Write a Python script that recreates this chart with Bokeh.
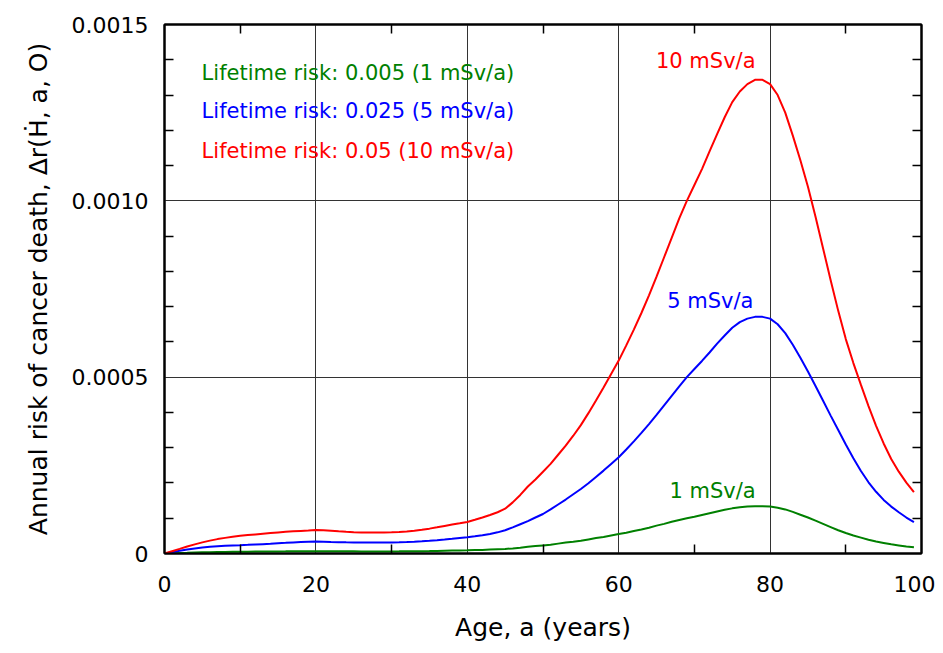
from bokeh.plotting import figure
from bokeh.models import LinearAxis, FixedTicker, Label, Range1d
from bokeh.embed import file_html
from bokeh.resources import INLINE

FONT = "DejaVu Sans"

age = list(range(0, 100))

risk_10 = [0, 0.0000065, 0.000013, 0.0000198, 0.0000258, 0.0000315, 0.0000365, 0.0000408, 0.0000443, 0.0000473,
           0.00005, 0.0000522, 0.0000542, 0.0000562, 0.000058, 0.0000598, 0.0000614, 0.0000628, 0.000064, 0.0000652,
           0.0000665, 0.0000658, 0.0000643, 0.0000628, 0.0000615, 0.0000605, 0.0000598, 0.0000595, 0.0000595, 0.0000598,
           0.0000603, 0.000061, 0.0000625, 0.0000645, 0.0000672, 0.0000705, 0.0000742, 0.0000782, 0.0000822, 0.0000858,
           0.0000895, 0.0000955, 0.000102, 0.000109, 0.000117, 0.000127, 0.000145, 0.000166, 0.00019, 0.00021,
           0.000232, 0.000254, 0.00028, 0.000306, 0.000334, 0.000364, 0.000398, 0.000434, 0.000471, 0.000509,
           0.000547, 0.00059, 0.000635, 0.000682, 0.000732, 0.000785, 0.00084, 0.000895, 0.00095, 0.001,
           0.001045, 0.00109, 0.00114, 0.001189, 0.001237, 0.00128, 0.00131, 0.001331, 0.001343, 0.001343,
           0.001331, 0.0013, 0.00125, 0.001185, 0.001115, 0.00104, 0.000955, 0.000865, 0.000775, 0.000688,
           0.000608, 0.00054, 0.000478, 0.000418, 0.000362, 0.000312, 0.000268, 0.000232, 0.000201, 0.000174]

risk_5 = [0, 0.0000035, 0.0000075, 0.0000113, 0.0000145, 0.0000172, 0.0000192, 0.0000208, 0.000022, 0.0000228,
          0.0000236, 0.0000245, 0.0000255, 0.0000265, 0.0000275, 0.0000293, 0.0000303, 0.0000315, 0.0000325, 0.0000333,
          0.000034, 0.0000335, 0.0000328, 0.0000322, 0.0000317, 0.0000314, 0.0000312, 0.0000311, 0.0000311, 0.0000312,
          0.0000315, 0.0000318, 0.0000325, 0.0000335, 0.0000348, 0.0000362, 0.0000378, 0.0000397, 0.0000418, 0.000044,
          0.0000462, 0.000049, 0.000052, 0.0000555, 0.00006, 0.000066, 0.000074, 0.000083, 0.000092, 0.000102,
          0.000112, 0.000125, 0.000139, 0.000153, 0.000168, 0.000183, 0.000199, 0.000217, 0.000235, 0.000254,
          0.000273, 0.000295, 0.000318, 0.000342, 0.000367, 0.000393, 0.00042, 0.000447, 0.000474, 0.0005,
          0.000523, 0.000546, 0.00057, 0.000595, 0.000618, 0.00064, 0.000656, 0.000666, 0.000671, 0.000671,
          0.000666, 0.00065, 0.000625, 0.000592, 0.000555, 0.000516, 0.000475, 0.000433, 0.000391, 0.00035,
          0.000309, 0.00027, 0.000234, 0.000202, 0.000175, 0.000152, 0.000133, 0.000117, 0.000102, 0.0000887]

risk_1 = [0, 0.0000007, 0.0000014, 0.000002, 0.0000027, 0.0000032, 0.0000037, 0.0000041, 0.0000044, 0.0000047,
          0.000005, 0.0000052, 0.0000054, 0.0000056, 0.0000058, 0.000006, 0.0000061, 0.0000063, 0.0000064, 0.0000065,
          0.0000067, 0.0000066, 0.0000064, 0.0000063, 0.0000062, 0.0000061, 0.000006, 0.000006, 0.000006, 0.000006,
          0.000006, 0.0000061, 0.0000063, 0.0000065, 0.0000067, 0.000007, 0.0000074, 0.0000078, 0.0000082, 0.0000086,
          0.000009, 0.0000096, 0.00001, 0.000011, 0.000012, 0.000013, 0.0000145, 0.0000165, 0.000019, 0.000021,
          0.000023, 0.000025, 0.000028, 0.000031, 0.000033, 0.000036, 0.00004, 0.000044, 0.000047, 0.000051,
          0.000055, 0.000059, 0.000064, 0.000068, 0.000073, 0.000079, 0.000084, 0.00009, 0.000095, 0.0001,
          0.000104, 0.000109, 0.000114, 0.000119, 0.000124, 0.000128, 0.000131, 0.000133, 0.000134, 0.000134,
          0.000133, 0.00013, 0.000125, 0.000118, 0.00011, 0.000102, 0.000093, 0.000084, 0.000075, 0.000066,
          0.000058, 0.000051, 0.000045, 0.000039, 0.000034, 0.00003, 0.000026, 0.000023, 0.00002, 0.0000179]

series_names = ["1 mSv/a", "5 mSv/a", "10 mSv/a"]
legend_texts = ["Lifetime risk: 0.005 (1 mSv/a)", "Lifetime risk: 0.025 (5 mSv/a)",
                "Lifetime risk: 0.05 (10 mSv/a)"]
colors = ["#008000", "#0000ff", "#ff0000"]

x_ticks = [0, 20, 40, 60, 80, 100]
y_ticks = [0, 0.0005, 0.0010, 0.0015]
y_tick_labels = ["0", "0.0005", "0.0010", "0.0015"]
x_minor = [10, 30, 50, 70, 90]
y_minor = [0.0001, 0.0002, 0.0003, 0.0004, 0.0006, 0.0007, 0.0008, 0.0009,
           0.0011, 0.0012, 0.0013, 0.0014]

p = figure(width=935, height=645, output_backend="svg", toolbar_location=None,
           x_range=Range1d(0, 100), y_range=Range1d(0, 0.0015),
           min_border_left=164, min_border_right=14, min_border_top=24, min_border_bottom=92)
p.background_fill_color = "white"
p.border_fill_color = "white"
p.outline_line_color = "black"
p.outline_line_width = 2

for ys, c in zip([risk_1, risk_5, risk_10], colors):
    p.line(age, ys, line_color=c, line_width=2)

def style_axis(ax, labels=True):
    ax.axis_line_color = "black"
    ax.axis_line_width = 2
    ax.major_tick_in = 0
    ax.major_tick_out = 0
    ax.minor_tick_in = 9
    ax.minor_tick_out = 0
    ax.major_tick_line_color = "black"
    ax.minor_tick_line_color = "black"
    ax.minor_tick_line_width = 1.5
    ax.major_label_text_font = FONT
    ax.major_label_text_font_size = "22px"
    ax.major_label_text_color = "black"
    ax.axis_label_text_font = FONT
    ax.axis_label_text_font_size = "25px"
    ax.axis_label_text_font_style = "normal"
    ax.axis_label_text_color = "black"
    if not labels:
        ax.major_label_text_color = None
        ax.major_label_text_font_size = "1px"
        ax.major_label_standoff = 0

xa = p.xaxis[0]
xa.ticker = FixedTicker(ticks=x_ticks, minor_ticks=x_minor)
style_axis(xa)
xa.major_label_standoff = 22
xa.axis_label = "Age, a (years)"
xa.axis_label_standoff = 18

ya = p.yaxis[0]
ya.ticker = FixedTicker(ticks=y_ticks, minor_ticks=y_minor)
ya.major_label_overrides = {t: l for t, l in zip(y_ticks, y_tick_labels)}
style_axis(ya)
ya.major_label_standoff = 16
ya.axis_label = "Annual risk of cancer death, \u0394r(\u1E22, a, O)"
ya.axis_label_standoff = 16

top = LinearAxis(ticker=FixedTicker(ticks=x_ticks, minor_ticks=x_minor))
style_axis(top, labels=False)
p.add_layout(top, "above")
right = LinearAxis(ticker=FixedTicker(ticks=y_ticks, minor_ticks=y_minor))
style_axis(right, labels=False)
p.add_layout(right, "right")

p.xgrid.ticker = FixedTicker(ticks=[20, 40, 60, 80])
p.ygrid.ticker = FixedTicker(ticks=[0.0005, 0.0010])
p.xgrid.grid_line_color = "#333333"
p.ygrid.grid_line_color = "#333333"
p.xgrid.grid_line_width = 1
p.ygrid.grid_line_width = 1

# legend-like texts
for txt, c, yv in zip(legend_texts, colors, [0.001363, 0.001255, 0.001142]):
    p.add_layout(Label(x=4.9, y=yv, text=txt, text_color=c, text_font=FONT,
                       text_font_size="21px", text_baseline="middle", text_align="left"))

# curve labels
for txt, c, xv, yv in zip(series_names, colors, [72.4, 72.1, 71.5], [0.000178, 0.000717, 0.001397]):
    p.add_layout(Label(x=xv, y=yv, text=txt, text_color=c, text_font=FONT,
                       text_font_size="21px", text_baseline="middle", text_align="center"))

open("out.html", "w").write(file_html(p, INLINE))
